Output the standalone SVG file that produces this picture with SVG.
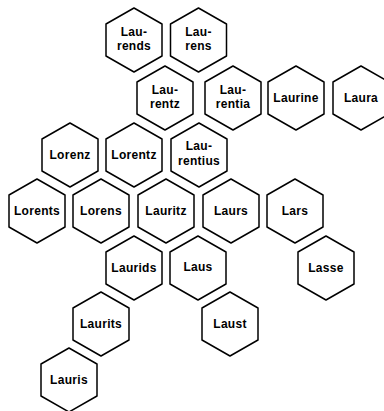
<svg xmlns="http://www.w3.org/2000/svg" width="384" height="411" viewBox="0 0 384 411">
<style>
.hex{fill:#fff;stroke:#000;stroke-width:1.5;stroke-linejoin:round}
text{font-family:"Liberation Sans",Arial,sans-serif;font-weight:bold;font-size:12px;letter-spacing:0.3px;text-anchor:middle;fill:#000}
</style>
<defs>
<polygon id="hx" class="hex" points="0,-32 28,-16 28,16 0,32 -28,16 -28,-16"/>
</defs>
<rect width="384" height="411" fill="#fff"/>
<g id="Laurends" transform="translate(134,40)"><use href="#hx"/><text y="-4">Lau-</text><text y="10">rends</text></g>
<g id="Laurens" transform="translate(198.5,40)"><use href="#hx"/><text y="-4">Lau-</text><text y="10">rens</text></g>
<g id="Laurentz" transform="translate(165,98)"><use href="#hx"/><text y="-4.5">Lau-</text><text y="9.5">rentz</text></g>
<g id="Laurentia" transform="translate(233,98)"><use href="#hx"/><text y="-4.5">Lau-</text><text y="9.5">rentia</text></g>
<g id="Laurine" transform="translate(296,98)"><use href="#hx"/><text y="4">Laurine</text></g>
<g id="Laura" transform="translate(361,98)"><use href="#hx"/><text y="4">Laura</text></g>
<g id="Lorenz" transform="translate(70,155)"><use href="#hx"/><text y="4">Lorenz</text></g>
<g id="Lorentz" transform="translate(134,155)"><use href="#hx"/><text y="4">Lorentz</text></g>
<g id="Laurentius" transform="translate(199,155)"><use href="#hx"/><text y="-5">Lau-</text><text y="9.5">rentius</text></g>
<g id="Lorents" transform="translate(37,211)"><use href="#hx"/><text y="4">Lorents</text></g>
<g id="Lorens" transform="translate(101,211)"><use href="#hx"/><text y="4">Lorens</text></g>
<g id="Lauritz" transform="translate(166,211)"><use href="#hx"/><text y="4">Lauritz</text></g>
<g id="Laurs" transform="translate(231,211)"><use href="#hx"/><text y="4">Laurs</text></g>
<g id="Lars" transform="translate(295,211)"><use href="#hx"/><text y="4">Lars</text></g>
<g id="Laurids" transform="translate(134,268)"><use href="#hx"/><text y="4">Laurids</text></g>
<g id="Laus" transform="translate(198,268)"><use href="#hx"/><text y="3">Laus</text></g>
<g id="Lasse" transform="translate(326,268)"><use href="#hx"/><text y="4">Lasse</text></g>
<g id="Laurits" transform="translate(101,324)"><use href="#hx"/><text y="4">Laurits</text></g>
<g id="Laust" transform="translate(230,324)"><use href="#hx"/><text y="4">Laust</text></g>
<g id="Lauris" transform="translate(69,380)"><use href="#hx"/><text y="4">Lauris</text></g>
</svg>
